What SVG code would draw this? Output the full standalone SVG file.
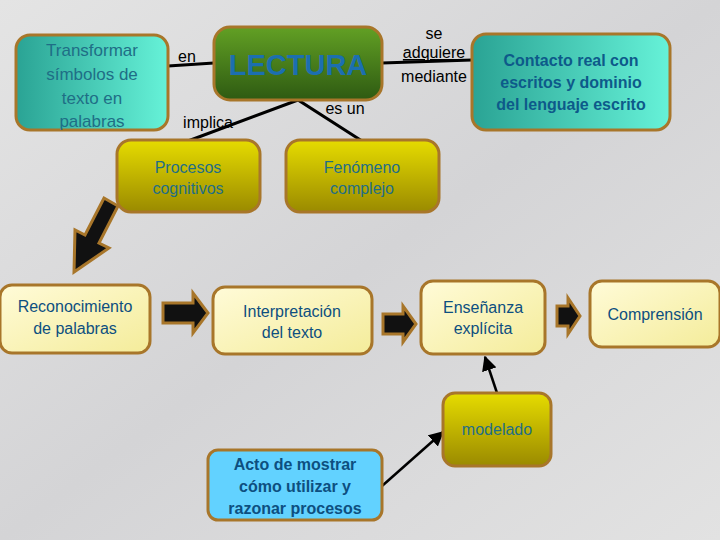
<svg xmlns="http://www.w3.org/2000/svg" width="720" height="540" viewBox="0 0 720 540">
<defs>
<linearGradient id="bg" x1="0" y1="0" x2="1" y2="1"><stop offset="0" stop-color="#e4e4e4"/><stop offset="0.5" stop-color="#d4d4d6"/><stop offset="1" stop-color="#e2e2e2"/></linearGradient>
<linearGradient id="teal" x1="0" y1="0" x2="1" y2="0"><stop offset="0" stop-color="#2aa394"/><stop offset="1" stop-color="#66f2d8"/></linearGradient>
<linearGradient id="green" x1="0" y1="0" x2="0" y2="1"><stop offset="0" stop-color="#62a024"/><stop offset="1" stop-color="#2e5a12"/></linearGradient>
<linearGradient id="yel" x1="0" y1="0" x2="0" y2="1"><stop offset="0" stop-color="#e6dc00"/><stop offset="1" stop-color="#9a8a00"/></linearGradient>
<linearGradient id="lyel" x1="0" y1="0" x2="1" y2="1"><stop offset="0" stop-color="#fffbd8"/><stop offset="1" stop-color="#f4ec9a"/></linearGradient>
<marker id="ah" viewBox="0 0 10 10" refX="9" refY="5" markerWidth="6" markerHeight="6" orient="auto"><path d="M0,0 L10,5 L0,10 z" fill="#000"/></marker>
</defs>
<style>
.b{stroke:#a8762a;stroke-width:3}
.t{font-family:"Liberation Sans",Arial,sans-serif;font-size:16px;fill:#1f6e86;text-anchor:middle}
.l{font-family:"Liberation Sans",Arial,sans-serif;font-size:16px;fill:#000;text-anchor:middle}
.c{stroke:#000;stroke-width:3;fill:none}
.blk{fill:#111;stroke:#a8762a;stroke-width:3;stroke-linejoin:miter}
</style>
<rect width="720" height="540" fill="url(#bg)"/>
<g id="connectors">
<line class="c" x1="168" y1="66" x2="214" y2="63"/>
<line class="c" x1="382" y1="63" x2="472" y2="60"/>
<polyline class="c" points="188,141 298,100 362,141"/>
<line class="c" style="stroke-width:2.5" x1="497" y1="393" x2="485" y2="357" marker-end="url(#ah)"/>
<line class="c" style="stroke-width:2.5" x1="382" y1="486" x2="443" y2="432" marker-end="url(#ah)"/>
<path class="blk" d="M163,303 L193,303 L193,293 L208,313 L193,333 L193,323 L163,323 Z"/>
<path class="blk" d="M383,314 L403,314 L403,306 L416,324 L403,342 L403,334 L383,334 Z"/>
<path class="blk" d="M557,306 L568,306 L568,298 L580,316 L568,334 L568,326 L557,326 Z"/>
<path class="blk" d="M118,206 L99,243 L109,248 L74,272 L75,230 L85,235 L104,198 Z"/>
<text class="l" x="187" y="62">en</text>
<text class="l" x="434" y="39">se</text>
<text class="l" x="434" y="58" text-decoration="underline">adquiere</text>
<text class="l" x="434" y="82">mediante</text>
<text class="l" x="208" y="128">implica</text>
<text class="l" x="345" y="114">es un</text>
</g>
<g id="transformar"><rect class="b" x="16" y="35" width="152" height="95" rx="14" fill="url(#teal)"/>
<text class="t" style="font-size:17px"><tspan x="92" y="56">Transformar</tspan><tspan x="92" y="80">símbolos de</tspan><tspan x="92" y="104">texto en</tspan><tspan x="92" y="127">palabras</tspan></text></g>
<g id="lectura"><rect class="b" x="214" y="27" width="168" height="73" rx="16" fill="url(#green)"/>
<text class="t" x="298" y="75" style="font-size:29px;font-weight:bold;fill:#1c6fb0">LECTURA</text></g>
<g id="contacto"><rect class="b" x="472" y="34" width="198" height="96" rx="14" fill="url(#teal)"/>
<text class="t" style="font-weight:bold;fill:#0d5a8a"><tspan x="571" y="66">Contacto real con</tspan><tspan x="571" y="88">escritos y dominio</tspan><tspan x="571" y="110">del lenguaje escrito</tspan></text></g>
<g id="procesos"><rect class="b" x="117" y="140" width="143" height="72" rx="14" fill="url(#yel)"/>
<text class="t"><tspan x="188" y="173">Procesos</tspan><tspan x="188" y="194">cognitivos</tspan></text></g>
<g id="fenomeno"><rect class="b" x="286" y="140" width="153" height="72" rx="14" fill="url(#yel)"/>
<text class="t"><tspan x="362" y="173">Fenómeno</tspan><tspan x="362" y="194">complejo</tspan></text></g>
<g id="reconocimiento"><rect class="b" x="0" y="285" width="150" height="68" rx="12" fill="url(#lyel)"/>
<text class="t" style="fill:#0d4f80"><tspan x="75" y="312">Reconocimiento</tspan><tspan x="75" y="334">de palabras</tspan></text></g>
<g id="interpretacion"><rect class="b" x="213" y="287" width="159" height="67" rx="12" fill="url(#lyel)"/>
<text class="t" style="fill:#0d4f80"><tspan x="292" y="317">Interpretación</tspan><tspan x="292" y="338">del texto</tspan></text></g>
<g id="ensenanza"><rect class="b" x="421" y="281" width="124" height="73" rx="12" fill="url(#lyel)"/>
<text class="t" style="fill:#0d4f80"><tspan x="483" y="313">Enseñanza</tspan><tspan x="483" y="334">explícita</tspan></text></g>
<g id="comprension"><rect class="b" x="590" y="281" width="130" height="66" rx="12" fill="url(#lyel)"/>
<text class="t" x="655" y="320" style="fill:#0d4f80">Comprensión</text></g>
<g id="modelado"><rect class="b" x="443" y="393" width="108" height="73" rx="12" fill="url(#yel)"/>
<text class="t" x="497" y="435">modelado</text></g>
<g id="acto"><rect class="b" x="208" y="450" width="174" height="70" rx="10" fill="#62d2ff"/>
<text class="t" style="font-weight:bold;fill:#0d4f80"><tspan x="295" y="470">Acto de mostrar</tspan><tspan x="295" y="492">cómo utilizar y</tspan><tspan x="295" y="514">razonar procesos</tspan></text></g>
</svg>
